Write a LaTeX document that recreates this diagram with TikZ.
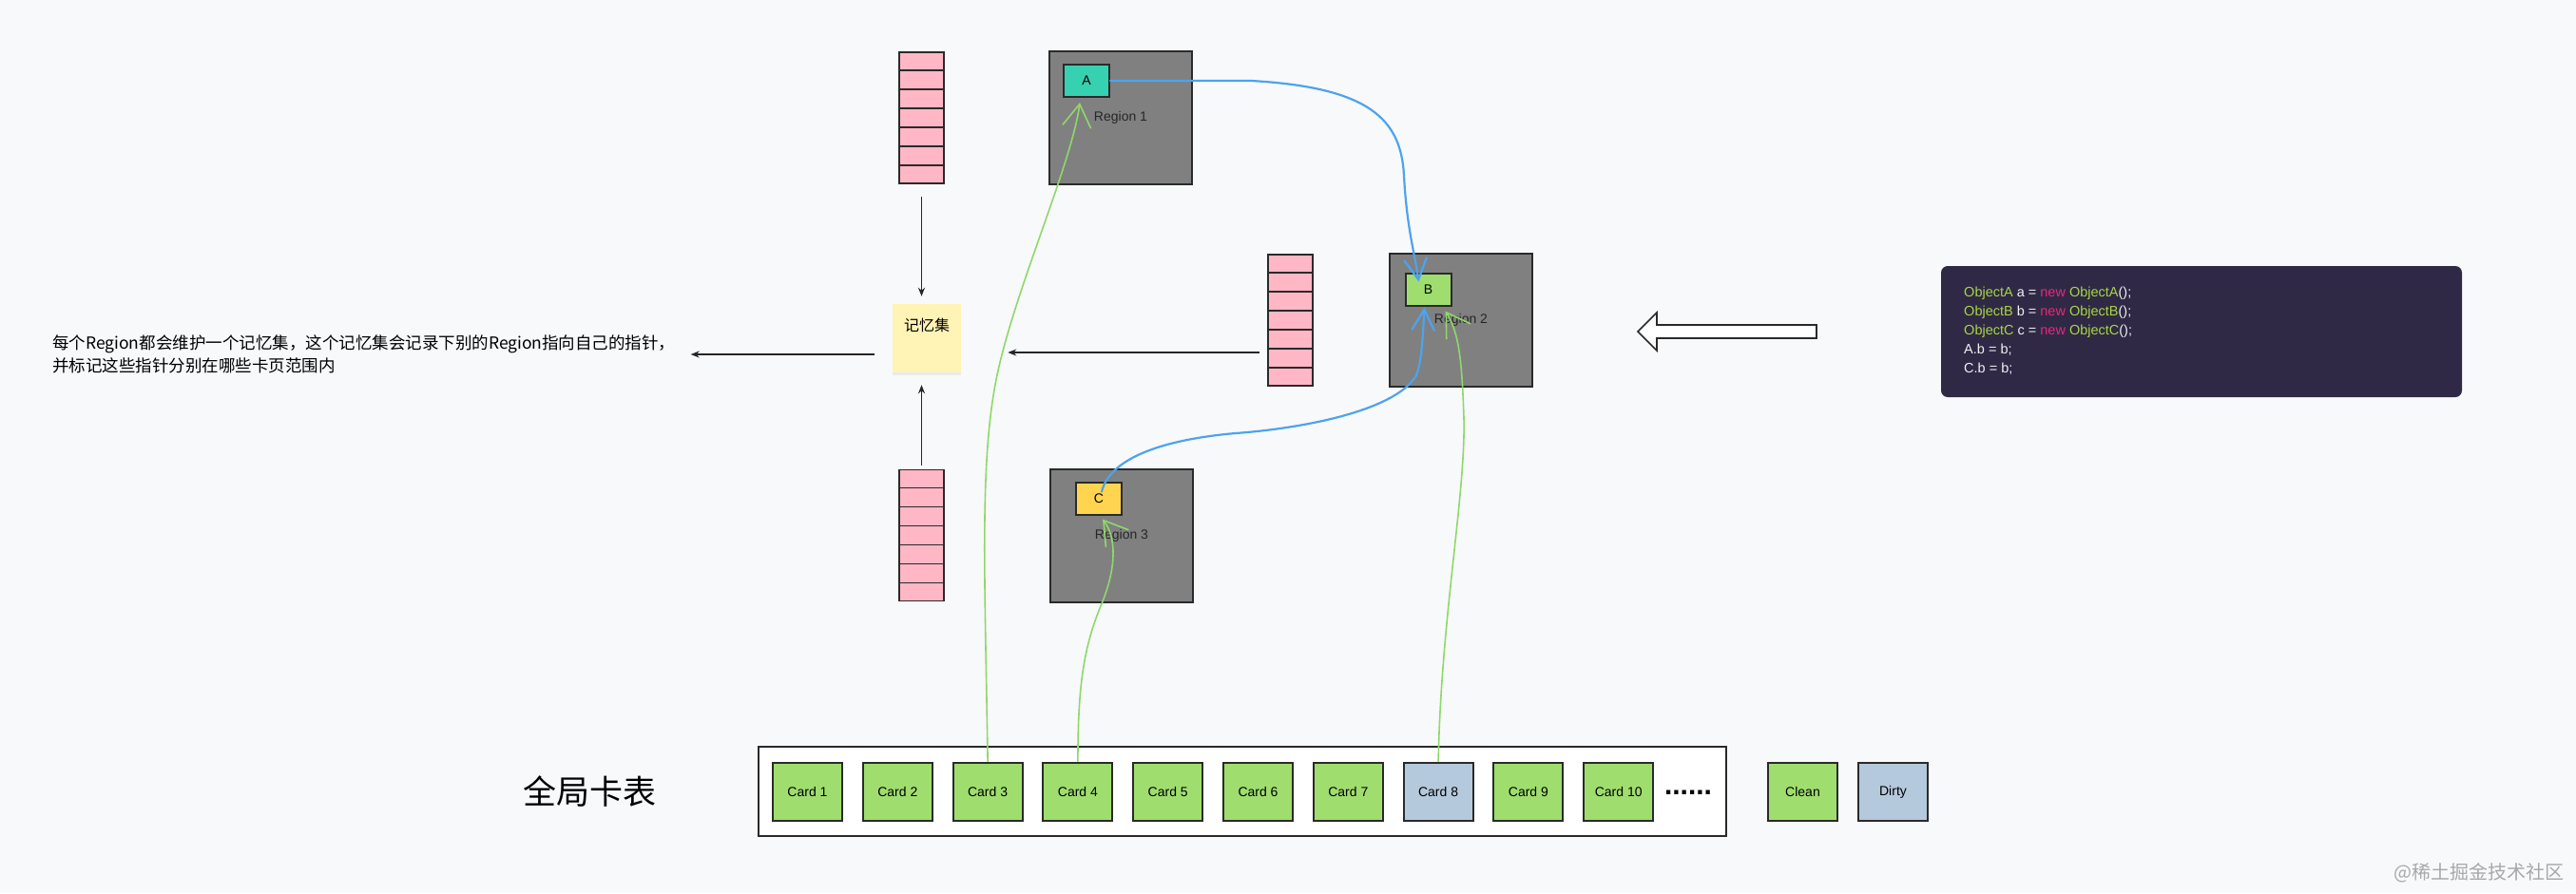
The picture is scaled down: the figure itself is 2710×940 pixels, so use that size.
\documentclass[tikz,border=0pt]{standalone}
\usepackage{fontspec}
\setmainfont{Liberation Sans}
\newfontfamily\cjk{Noto Sans CJK SC}
\usetikzlibrary{arrows.meta,calc,shadows}
\definecolor{bgc}{HTML}{F8F9FB}
\definecolor{edgec}{HTML}{2A2A2A}
\definecolor{regiongray}{HTML}{808080}
\definecolor{tealc}{HTML}{36D1B0}
\definecolor{greenc}{HTML}{9FDE6E}
\definecolor{yellowc}{HTML}{FFD54F}
\definecolor{pinkc}{HTML}{FFB7C5}
\definecolor{notec}{HTML}{FFF3B5}
\definecolor{cardb}{HTML}{B5C9DD}
\definecolor{codebg}{HTML}{2F2946}
\definecolor{codeg}{HTML}{A8D641}
\definecolor{codem}{HTML}{E8277A}
\definecolor{codew}{HTML}{F0F0F0}
\definecolor{bluec}{HTML}{4DA3EE}
\definecolor{grc}{HTML}{8FD86A}
\definecolor{wmc}{HTML}{A8A8A8}
\begin{document}
\begin{tikzpicture}[x=1pt,y=-1pt,
  region/.style={draw=edgec, line width=2pt, fill=regiongray, minimum width=150pt, minimum height=140pt, inner sep=0pt, font=\fontsize{14}{16}\selectfont, text=black!85},
  obj/.style={draw=edgec, line width=2pt, minimum width=48pt, minimum height=34pt, inner sep=0pt, font=\fontsize{14}{16}\selectfont},
  stack/.style={draw=edgec, line width=1.5pt, fill=pinkc, minimum width=47pt, minimum height=138pt, inner sep=0pt},
  card/.style={draw=edgec, line width=2pt, minimum width=73pt, minimum height=61pt, inner sep=0pt, font=\fontsize{14}{16}\selectfont},
  blk/.style={draw=black!85, line width=1.6pt, -{Stealth[length=9pt,width=7pt]}},
  bluecurve/.style={draw=bluec, line width=2.2pt, line cap=round, -{Straight Barb[length=22pt,width=24pt]}},
  greencurve/.style={draw=grc, line width=1.6pt, line cap=round, -{Straight Barb[length=24pt,width=30pt]}}
]
\fill[bgc] (0,0) rectangle (2710,940);
\useasboundingbox (0,0) rectangle (2710,940);

% pink remembered-set stacks
\node[stack] (stack1) at (969.5,124) {};
\node[stack] (stack2) at (1357.5,337) {};
\node[stack] (stack3) at (969.5,563.5) {};
\foreach \s in {stack1,stack2,stack3}{
  \foreach \i in {1,...,6}{
    \draw[edgec, line width=1.5pt] ($(\s.north west)!\i/7!(\s.south west)$) -- ($(\s.north east)!\i/7!(\s.south east)$);
  }
}

% regions
\node[region] (r1) at (1179,124) {Region 1};
\node[region] (r2) at (1537,337) {Region 2};
\node[region] (r3) at (1180,563.5) {Region 3};
\node[obj, fill=tealc] (A) at (1143,85) {A};
\node[obj, fill=greenc] (B) at (1502.5,304.5) {B};
\node[obj, fill=yellowc] (C) at (1156,524.5) {C};

% memory set note
\node[fill=notec, minimum width=72pt, minimum height=72pt, inner sep=0pt, text height=13pt, text depth=29pt,
      drop shadow={shadow xshift=0pt, shadow yshift=-3pt, opacity=0.12},
      font=\cjk\fontsize{16}{18}\selectfont] (memo) at (975,356) {记忆集};

% description text
\node[anchor=west, inner sep=0pt, align=left, font=\cjk\fontsize{17.5}{24}\selectfont] (desc) at (55,373)
  {每个Region都会维护一个记忆集，这个记忆集会记录下别的Region指向自己的指针，\\并标记这些指针分别在哪些卡页范围内};

% black arrows
\draw[blk] ([yshift=-13pt]stack1.south) -- ([yshift=8pt]memo.north -| stack1.south);
\draw[blk] ([yshift=4pt]stack3.north) -- ([yshift=-13pt]memo.south -| stack3.north);
\draw[blk] ([xshift=-8pt,yshift=-34pt]stack2.west) -- ++(-265,0);
\draw[blk] ([xshift=-19pt]memo.west |- desc.east) -- ([xshift=16pt]desc.east);

% hollow arrow
\draw[draw=edgec, line width=1.6pt, fill=white, line join=miter] (1911,342) -- (1743,342) -- (1743,329) -- (1723,349) -- (1743,369) -- (1743,356) -- (1911,356) -- cycle;

% code box
\node[fill=codebg, rounded corners=7pt, minimum width=548pt, minimum height=138pt, inner sep=0pt] (codebox) at (2316,349) {};
\node[anchor=north west, inner sep=0pt, align=left, text=codew, font=\fontsize{14.5}{20}\selectfont] (code) at (2066,302)
  {\textcolor{codeg}{ObjectA} a = \textcolor{codem}{new} \textcolor{codeg}{ObjectA}();\\
   \textcolor{codeg}{ObjectB} b = \textcolor{codem}{new} \textcolor{codeg}{ObjectB}();\\
   \textcolor{codeg}{ObjectC} c = \textcolor{codem}{new} \textcolor{codeg}{ObjectC}();\\
   A.b = b;\\
   C.b = b;};

% global card table
\node[draw=edgec, line width=2pt, fill=white, minimum width=1018pt, minimum height=94pt, inner sep=0pt] (table) at (1307,833) {};
\foreach \i/\c in {1/greenc,2/greenc,3/greenc,4/greenc,5/greenc,6/greenc,7/greenc,8/cardb,9/greenc,10/greenc}{
  \node[card, fill=\c] (card\i) at ({849.5+94.8*(\i-1)},833) {Card \i};
}
\node[inner sep=0pt, font=\bfseries\fontsize{30}{30}\selectfont] (dots) at (1776,834) {......};
\node[card, fill=greenc] (clean) at (1896.5,833.5) {Clean};
\node[card, fill=cardb] (dirty) at (1991.5,833.5) {Dirty};
\node[font=\cjk\fontsize{35}{40}\selectfont] (title) at (620,833) {全局卡表};

% hand-drawn references
\draw[bluecurve] (A.east) -- (1316,85) .. controls (1440,92) and (1474,125) .. (1477,185)
  .. controls (1480,240) and (1488,265) .. ([xshift=-10pt,yshift=-10pt]B.north);
\draw[bluecurve] ([xshift=3pt,yshift=7pt]C.center) .. controls (1168,480) and (1230,462) .. (1300,456)
  .. controls (1380,450) and (1470,430) .. (1490,395) .. controls (1496,380) and (1497,350) .. ([xshift=-4pt,yshift=-1pt]B.south);
\draw[greencurve] (card3.north) .. controls (1036,600) and (1030,480) .. (1050,390)
  .. controls (1070,300) and (1128,170) .. ([xshift=-7pt,yshift=-5pt]A.south);
\draw[greencurve] (card4.north) .. controls (1134,720) and (1140,680) .. (1160,633)
  .. controls (1175,595) and (1174,565) .. ([xshift=4pt,yshift=-4pt]C.south);
\draw[greencurve] (card8.north) .. controls (1516,650) and (1542,520) .. (1540,440)
  .. controls (1538,380) and (1535,350) .. ([xshift=18pt,yshift=-5pt]B.south);

% watermark
\node[anchor=east, inner sep=0pt, text=wmc, font=\cjk\fontsize{20}{22}\selectfont] (wm) at (2698,919) {@稀土掘金技术社区};
\end{tikzpicture}
\end{document}
